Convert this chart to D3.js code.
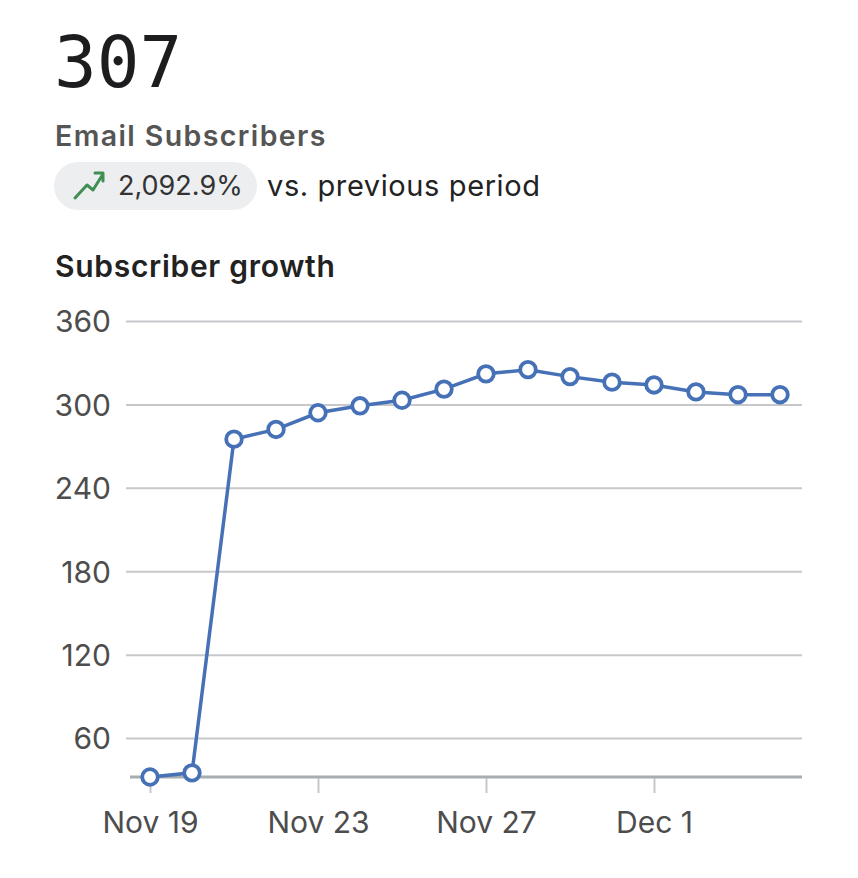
<!DOCTYPE html>
<html>
<head>
<meta charset="utf-8">
<script src="https://cdn.jsdelivr.net/npm/d3@7"></script>
<style>
  body { margin: 0; background: #fff; }
  svg text { font-family: Inter, "Liberation Sans", Arial, sans-serif; }
</style>
</head>
<body>
<div id="chart"></div>
<script>
// values
var dates = ["2023-11-19","2023-11-20","2023-11-21","2023-11-22","2023-11-23","2023-11-24",
             "2023-11-25","2023-11-26","2023-11-27","2023-11-28","2023-11-29","2023-11-30",
             "2023-12-01","2023-12-02","2023-12-03","2023-12-04"];
var subscribers = [32, 35, 275, 282, 294, 299, 303, 311, 322, 325, 320, 316, 314, 309, 307, 307];
var yTicks = [60, 120, 180, 240, 300, 360];
var xTicks = ["2023-11-19","2023-11-23","2023-11-27","2023-12-01"];

var headline = "307";
var metricName = "Email Subscribers";
var change = "2,092.9%";
var changeNote = "vs. previous period";
var chartTitle = "Subscriber growth";

var width = 858, height = 878;
var parse = d3.timeParse("%Y-%m-%d");
var data = dates.map(function(d, i) { return { date: parse(d), value: subscribers[i] }; });

var svg = d3.select("#chart").append("svg")
    .attr("width", width)
    .attr("height", height);

// header
svg.append("text")
    .attr("x", 54).attr("y", 87)
    .style("font-family", "'DejaVu Sans Mono', 'Liberation Mono', monospace")
    .style("font-size", "71px")
    .style("fill", "#1d1d1f")
    .text(headline);

svg.append("text")
    .attr("x", 55).attr("y", 146)
    .style("font-size", "28.5px")
    .style("font-weight", "600")
    .style("letter-spacing", "1.4px")
    .style("fill", "#555555")
    .text(metricName);

svg.append("rect")
    .attr("x", 54).attr("y", 162)
    .attr("width", 203).attr("height", 48)
    .attr("rx", 24)
    .style("fill", "#eceef0");

svg.append("path")
    .attr("d", "M75,198 L87,185 L93,190 L103,174 M95,173 L103,173 L103,181")
    .style("fill", "none")
    .style("stroke", "#3f8f52")
    .style("stroke-width", 3)
    .style("stroke-linecap", "round")
    .style("stroke-linejoin", "round");

svg.append("text")
    .attr("x", 118).attr("y", 195)
    .style("font-size", "27px")
    .style("fill", "#333333")
    .text(change);

svg.append("text")
    .attr("x", 267).attr("y", 196)
    .style("font-size", "29px")
    .style("letter-spacing", "0.6px")
    .style("fill", "#222222")
    .text(changeNote);

svg.append("text")
    .attr("x", 55).attr("y", 277)
    .style("font-size", "30px")
    .style("font-weight", "600")
    .style("letter-spacing", "0.7px")
    .style("fill", "#222222")
    .text(chartTitle);

// scales
var x = d3.scaleTime()
    .domain(d3.extent(data, function(d) { return d.date; }))
    .range([150, 780]);

var y = d3.scaleLinear()
    .domain([d3.min(subscribers), 360])
    .range([777, 321]);

// y grid + labels
var yAxis = svg.append("g")
    .attr("transform", "translate(126,0)")
    .call(d3.axisLeft(y).tickValues(yTicks).tickSize(-676).tickPadding(15));
yAxis.select(".domain").remove();
yAxis.selectAll(".tick line")
    .style("stroke", "#c6c8cb")
    .style("stroke-width", 2);
yAxis.selectAll(".tick text")
    .attr("dy", "0.36em")
    .style("font-size", "30px")
    .style("font-family", "Inter, 'Liberation Sans', Arial, sans-serif")
    .style("fill", "#4d4d4d");

// x axis
var xAxis = svg.append("g")
    .attr("transform", "translate(0,777)")
    .call(d3.axisBottom(x)
        .tickValues(xTicks.map(parse))
        .tickSize(16)
        .tickPadding(19)
        .tickFormat(d3.timeFormat("%b %-d")));
xAxis.select(".domain").remove();
xAxis.selectAll(".tick line")
    .style("stroke", "#c6c8cb")
    .style("stroke-width", 2);
xAxis.selectAll(".tick text")
    .style("font-size", "30px")
    .style("font-family", "Inter, 'Liberation Sans', Arial, sans-serif")
    .style("fill", "#4d4d4d");

svg.append("line")
    .attr("x1", 130).attr("x2", 802)
    .attr("y1", 777).attr("y2", 777)
    .style("stroke", "#a9acb0")
    .style("stroke-width", 3);

// series
var line = d3.line()
    .x(function(d) { return x(d.date); })
    .y(function(d) { return y(d.value); });

svg.append("path")
    .datum(data)
    .attr("d", line)
    .style("fill", "none")
    .style("stroke", "#4671b6")
    .style("stroke-width", 3.5);

svg.selectAll("circle.pt")
    .data(data)
    .enter().append("circle")
    .attr("class", "pt")
    .attr("cx", function(d) { return x(d.date); })
    .attr("cy", function(d) { return y(d.value); })
    .attr("r", 7.8)
    .style("fill", "#ffffff")
    .style("stroke", "#4671b6")
    .style("stroke-width", 3.8);
</script>
</body>
</html>
